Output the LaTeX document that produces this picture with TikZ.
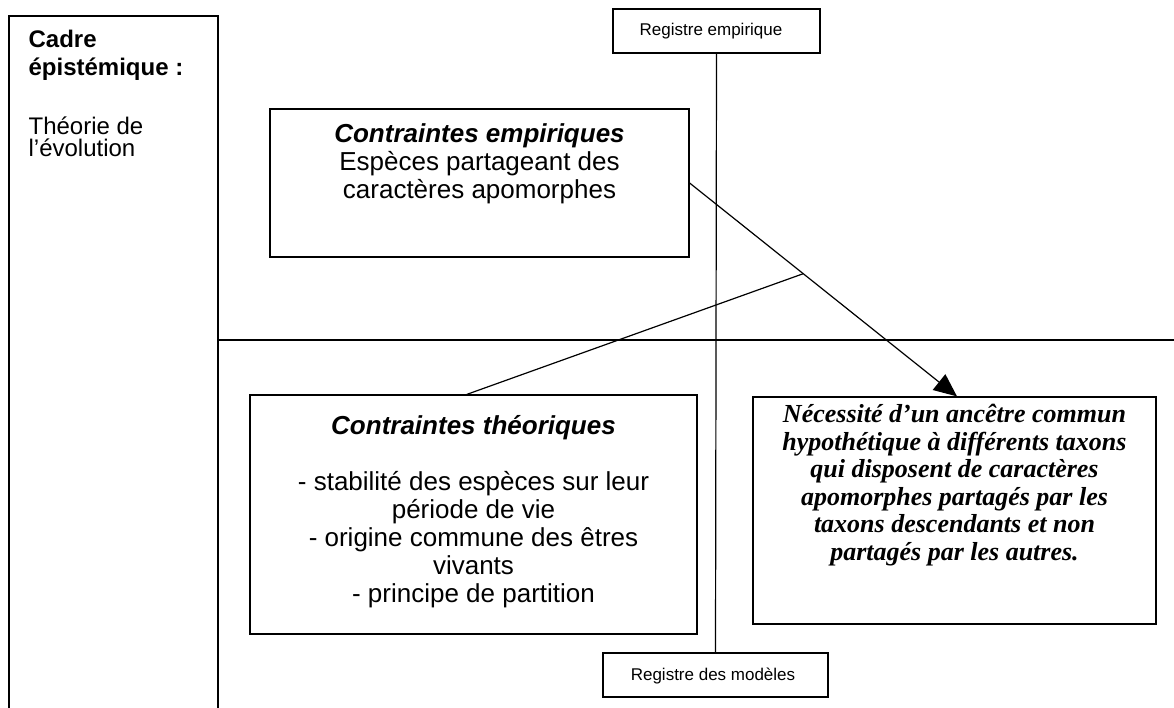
\documentclass[tikz,border=0pt]{standalone}
\usepackage{fontspec}
\setmainfont{Liberation Sans}
\newfontfamily\timesfont{Liberation Serif}
\usetikzlibrary{arrows.meta,calc}
\begin{document}
\begin{tikzpicture}[x=1pt,y=-1pt,line width=1.2pt,
  boxshape/.style={draw,rectangle,inner sep=0pt},
  maintext/.style={inner sep=0pt,align=center,font=\fontsize{26}{28}\selectfont},
  regtext/.style={inner sep=0pt,font=\fontsize{17}{20}\selectfont},
  link/.style={line width=1.2pt},
  arrowlink/.style={line width=1.2pt,-{Triangle[length=23pt,width=20pt]}}]
\useasboundingbox (0,0) rectangle (1174,708);

% frames
\node[boxshape,minimum width=209pt,minimum height=710pt] (cadreBox) at (113.5,371) {};
\node[boxshape,minimum width=207pt,minimum height=44pt] (regE) at (716.5,31) {};
\node[boxshape,minimum width=225pt,minimum height=44pt] (regM) at (715.5,675) {};
\node[boxshape,minimum width=419pt,minimum height=148pt] (emp) at (479.5,183) {};
\node[boxshape,minimum width=447pt,minimum height=239pt] (theo) at (473.5,514.5) {};
\node[boxshape,minimum width=403pt,minimum height=227pt] (nec) at (954.5,510.5) {};

% texts (base anchor = baseline of the last line)
\node[regtext,anchor=base] (regEt) at (711,36) {Registre empirique};
\node[regtext,anchor=base] (regMt) at (713,680) {Registre des modèles};
\node[inner sep=0pt,anchor=base west,align=left,font=\fontsize{24}{28}\selectfont\bfseries] (cadreT) at (28,76) {Cadre\\épistémique :};
\node[inner sep=0pt,anchor=base west,align=left,font=\fontsize{24}{22}\selectfont] (theorieT) at (28,157) {Théorie de\\l’évolution};
\node[maintext,anchor=base] (empT) at (479.5,199) {\textbf{\textit{Contraintes empiriques}}\\Espèces partageant des\\caractères apomorphes};
\node[maintext,anchor=base] (theoT) at (473.5,602) {\textbf{\textit{Contraintes théoriques}}\\[28pt]- stabilité des espèces sur leur\\période de vie\\- origine commune des êtres\\vivants\\- principe de partition};
\node[inner sep=0pt,anchor=base,align=center,font=\timesfont\bfseries\itshape\fontsize{26}{27.5}\selectfont] (necT) at (954.5,560) {Nécessité d’un ancêtre commun\\hypothétique à différents taxons\\qui disposent de caractères\\apomorphes partagés par les\\taxons descendants et non\\partagés par les autres.};

% connectors
\coordinate (hrEnd) at (1174,340);
\draw[link] (cadreBox.east |- hrEnd) -- (hrEnd);
\draw[link] (regE.south) -- (regM.north);
\coordinate (tip) at ([xshift=2.5pt]nec.north);
\draw[arrowlink] (emp.east) -- (tip);
\coordinate (junc) at ($(emp.east)!0.425!(tip)$);
\draw[link] ($(theo.north west)!0.485!(theo.north east)$) -- (junc);
\end{tikzpicture}
\end{document}
